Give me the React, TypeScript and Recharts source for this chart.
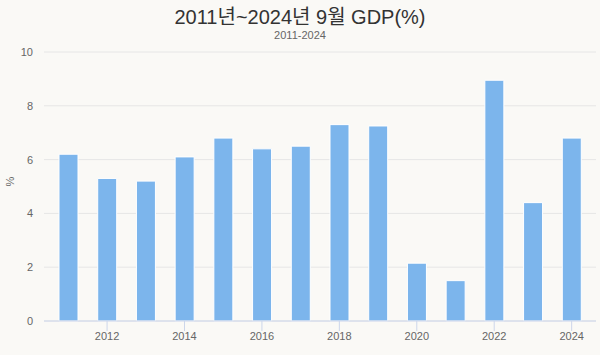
import { BarChart, Bar, XAxis, YAxis, CartesianGrid } from 'recharts';

const years = ['2011', '2012', '2013', '2014', '2015', '2016', '2017', '2018', '2019', '2020', '2021', '2022', '2023', '2024'];
const gdp = [6.2, 5.3, 5.2, 6.1, 6.8, 6.4, 6.5, 7.3, 7.25, 2.15, 1.5, 8.95, 4.4, 6.8];
const yTicks = [0, 2, 4, 6, 8, 10];

const data = years.map((year, i) => ({ year, gdp: gdp[i] }));

const FONT = '"Liberation Sans", Arial, "Noto Sans CJK KR", sans-serif';

function YearTick({ x, y, payload }: any) {
  const year = Number(payload.value);
  if (year % 2 !== 0) return null;
  return (
    <g>
      <line x1={x} x2={x} y1={y} y2={y + 10} stroke="#ccd6eb" strokeWidth={1} />
      <text x={x} y={y + 19} textAnchor="middle" fill="#666666" fontSize={11} fontFamily={FONT}>
        {payload.value}
      </text>
    </g>
  );
}

export default function App() {
  return (
    <div style={{ position: 'absolute', left: 0, top: 0, width: 600, height: 355, background: '#faf9f6', fontFamily: FONT }}>
      <div style={{ position: 'absolute', top: 5, width: 600, textAlign: 'center', fontSize: 20, color: '#333333', lineHeight: '24px' }}>
        2011년~2024년 9월 GDP(%)
      </div>
      <div style={{ position: 'absolute', top: 28, width: 600, textAlign: 'center', fontSize: 11, color: '#666666', lineHeight: '14px' }}>
        2011-2024
      </div>
      <BarChart width={600} height={355} data={data} margin={{ top: 52, right: 4, bottom: 0, left: 0 }}>
        <CartesianGrid vertical={false} stroke="#e6e6e6" />
        <XAxis
          dataKey="year"
          height={34}
          interval={0}
          padding={{ left: 5, right: 5 }}
          tickSize={0}
          tickMargin={0}
          tickLine={false}
          axisLine={{ stroke: '#ccd6eb' }}
          tick={<YearTick />}
        />
        <YAxis
          width={44}
          domain={[0, 10]}
          ticks={yTicks}
          axisLine={false}
          tickLine={false}
          tickMargin={5}
          tick={{ fill: '#666666', fontSize: 11, fontFamily: FONT }}
          label={{ value: '%', angle: -90, position: 'insideLeft', offset: 10, fill: '#666666', fontSize: 11, fontFamily: FONT }}
        />
        <Bar dataKey="gdp" fill="#7cb5ec" stroke="#ffffff" strokeWidth={1} barSize={19} isAnimationActive={false} />
      </BarChart>
    </div>
  );
}
